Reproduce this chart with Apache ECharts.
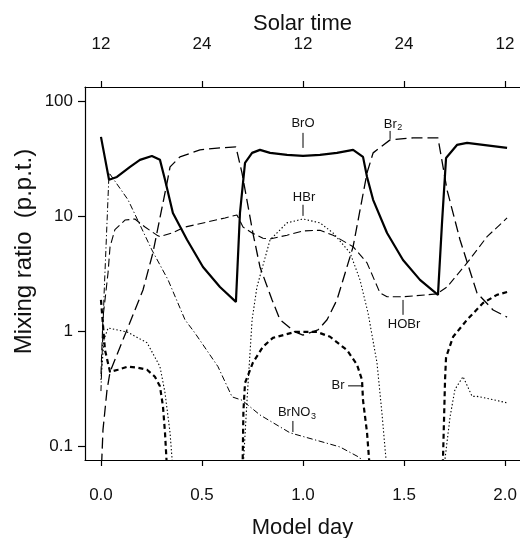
<!DOCTYPE html>
<html><head><meta charset="utf-8">
<script src="https://cdn.jsdelivr.net/npm/echarts@6/dist/echarts.min.js"></script>
<style>html,body{margin:0;padding:0;background:#fff}#c{width:520px;height:538px}</style>
</head><body><div id="c"></div>
<script>
// ---- tick values & labels ----
const xTicks = [0, 0.5, 1, 1.5, 2];
const xTickLabels = ['0.0', '0.5', '1.0', '1.5', '2.0'];
const solarTickLabels = ['12', '24', '12', '24', '12'];
const yTicks = [0.1, 1, 10, 100];
const yTickLabels = ['0.1', '1', '10', '100'];

// ---- series values: [model day, mixing ratio (p.p.t.)] ----
const BrO = [[0,48.6],[0.04,20.6],[0.079,21.8],[0.144,26.7],[0.193,30.7],[0.252,33.2],[0.292,30.7],[0.317,20.6],[0.356,10.6],[0.426,6.2],[0.505,3.6],[0.589,2.41],[0.668,1.79],[0.688,10.6],[0.713,28.9],[0.748,35.3],[0.787,37.5],[0.837,35.3],[0.921,33.9],[1.0,33.2],[1.084,33.9],[1.168,35.3],[1.248,37.5],[1.297,32.6],[1.317,21.8],[1.347,13.8],[1.416,7.1],[1.495,4.14],[1.579,2.78],[1.668,2.06],[1.688,8.7],[1.708,31.9],[1.762,41.4],[1.812,43.1],[2.01,39.0]];
const Br2 = [[0,0.05],[0.01,0.138],[0.03,0.307],[0.045,0.44],[0.208,2.27],[0.257,4.77],[0.327,19.4],[0.342,26.7],[0.391,32.6],[0.49,37.5],[0.589,39.0],[0.668,39.8],[0.698,23.7],[0.752,7.1],[0.787,3.6],[0.847,1.86],[0.886,1.25],[0.96,0.98],[1.0,0.92],[1.074,1.02],[1.119,1.25],[1.168,1.86],[1.248,5.4],[1.317,23.7],[1.347,35.3],[1.431,45.8],[1.545,47.7],[1.668,47.7],[1.713,16.8],[1.777,6.2],[1.861,2.14],[1.941,1.52],[2.01,1.32]];
const HOBr = [[0,0.42],[0.01,1.32],[0.02,1.86],[0.035,3.2],[0.045,5.4],[0.069,7.6],[0.119,9.2],[0.168,9.4],[0.218,8.0],[0.277,6.8],[0.292,6.6],[0.351,7.1],[0.416,8.0],[0.614,9.6],[0.673,10.2],[0.703,8.0],[0.748,7.1],[0.802,6.4],[0.837,6.3],[0.921,6.8],[1.0,7.4],[1.084,7.5],[1.149,6.8],[1.248,5.4],[1.317,3.9],[1.381,2.14],[1.416,1.98],[1.495,1.98],[1.663,2.1],[1.713,2.41],[1.812,3.9],[1.911,6.6],[2.01,9.6]];
const HBr = [[0,0.375],[0.015,0.84],[0.035,1.06],[0.129,0.98],[0.228,0.79],[0.292,0.49],[0.317,0.29],[0.342,0.13],[0.36,0.05],[0.70,0.05],[0.723,0.25],[0.748,1.25],[0.772,2.41],[0.837,6.2],[0.921,8.7],[1.0,9.4],[1.084,8.7],[1.149,7.1],[1.233,4.77],[1.282,2.78],[1.322,1.43],[1.366,0.53],[1.391,0.19],[1.42,0.05],[1.69,0.05],[1.728,0.18],[1.752,0.31],[1.792,0.40],[1.837,0.27],[1.861,0.27],[1.926,0.256],[2.01,0.237]];
const Br = [[0,1.86],[0.02,0.68],[0.045,0.44],[0.084,0.46],[0.134,0.49],[0.178,0.48],[0.228,0.46],[0.267,0.40],[0.292,0.33],[0.307,0.22],[0.317,0.13],[0.33,0.05],[0.70,0.05],[0.705,0.2],[0.713,0.353],[0.752,0.53],[0.802,0.73],[0.851,0.87],[0.96,0.98],[1.069,0.98],[1.134,0.89],[1.218,0.68],[1.267,0.51],[1.292,0.375],[1.297,0.25],[1.317,0.13],[1.335,0.05],[1.69,0.05],[1.698,0.17],[1.703,0.375],[1.708,0.59],[1.743,0.89],[1.812,1.25],[1.891,1.75],[1.96,2.06],[2.01,2.18]];
const BrNO3 = [[0,0.3],[0.015,2.0],[0.04,23.7],[0.134,13.8],[0.252,5.06],[0.332,2.78],[0.416,1.25],[0.465,0.96],[0.579,0.49],[0.649,0.267],[0.698,0.25],[0.703,0.25],[0.787,0.186],[0.936,0.13],[1.099,0.108],[1.183,0.098],[1.282,0.079],[1.33,0.05]];

// ---- species labels: text anchor and pointer in data coords ----
const speciesLabels = [
  {main:'BrO', sub:'', at:[1.0, 64], ptr:[[1.0,52.7],[1.0,39.0]]},
  {main:'Br', sub:'2', at:[1.446, 63], ptr:[[1.431,54.8],[1.431,46.7]]},
  {main:'HBr', sub:'', at:[1.005, 14.6], ptr:[[1.0,12.5],[1.0,10.0]]},
  {main:'HOBr', sub:'', at:[1.5, 1.15], ptr:[[1.495,1.86],[1.495,1.38]]},
  {main:'Br', sub:'', at:[1.173, 0.333], ptr:[[1.223,0.333],[1.292,0.333]]},
  {main:'BrNO', sub:'3', at:[0.97, 0.194], ptr:[[0.95,0.165],[0.95,0.132]]}
];

const FONT = "'Liberation Sans', Arial, Helvetica, sans-serif";
const chart = echarts.init(document.getElementById('c'), null, {renderer:'canvas'});
const findIdx = (arr, v) => arr.findIndex(t => Math.abs(t - v) < 1e-9);
const axisLine = {show:true, onZero:false, lineStyle:{color:'#000', width:1.2}};

const option = {
  animation:false,
  backgroundColor:'#fff',
  grid:{left:85, top:87, right:0, bottom:78, containLabel:false, outerBoundsMode:'none'},
  xAxis:[{
    type:'value', position:'bottom', min:-0.079, max:2.074,
    axisLine, splitLine:{show:false},
    axisTick:{show:true, customValues:xTicks, length:6, lineStyle:{color:'#000', width:1.2}},
    axisLabel:{customValues:xTicks, formatter:v => xTickLabels[findIdx(xTicks, v)], fontSize:17, color:'#111', fontFamily:FONT, margin:27},
    name:'Model day', nameLocation:'middle', nameGap:57, nameMoveOverlap:false,
    nameTextStyle:{fontSize:22, color:'#111', fontFamily:FONT}
  },{
    type:'value', position:'top', min:-0.079, max:2.074,
    axisLine, splitLine:{show:false},
    axisTick:{show:true, customValues:xTicks, length:6, lineStyle:{color:'#000', width:1.2}},
    axisLabel:{customValues:xTicks, formatter:v => solarTickLabels[findIdx(xTicks, v)], fontSize:17, color:'#111', fontFamily:FONT, margin:34},
    name:'Solar time', nameLocation:'middle', nameGap:52, nameMoveOverlap:false,
    nameTextStyle:{fontSize:22, color:'#111', fontFamily:FONT}
  }],
  yAxis:[{
    type:'log', logBase:10, min:0.0755, max:132, position:'left',
    axisLine, splitLine:{show:false}, minorTick:{show:false},
    axisTick:{show:true, customValues:yTicks, length:7, lineStyle:{color:'#000', width:1.2}},
    axisLabel:{customValues:yTicks, formatter:v => yTickLabels[findIdx(yTicks, v)], fontSize:17, color:'#111', fontFamily:FONT, margin:12}
  }],
  series:[
    {name:'BrO', type:'line', data:BrO, showSymbol:false, clip:true, lineStyle:{color:'#000', width:2.2, type:'solid'}},
    {name:'Br2', type:'line', data:Br2, showSymbol:false, clip:true, lineStyle:{color:'#000', width:1.3, type:[11,5]}},
    {name:'HOBr', type:'line', data:HOBr, showSymbol:false, clip:true, lineStyle:{color:'#000', width:1.1, type:[8,4]}},
    {name:'HBr', type:'line', data:HBr, showSymbol:false, clip:true, lineStyle:{color:'#000', width:1.1, type:[1.4,2.2]}},
    {name:'Br', type:'line', data:Br, showSymbol:false, clip:true, lineStyle:{color:'#000', width:2.2, type:[5,3.5]}},
    {name:'BrNO3', type:'line', data:BrNO3, showSymbol:false, clip:true, lineStyle:{color:'#000', width:1.0, type:[6,2.5,1.2,2.5]}}
  ]
};
chart.setOption(option);

// ---- species labels and y axis title (positions from axes) ----
const ctx = document.createElement('canvas').getContext('2d');
const px = p => chart.convertToPixel({xAxisIndex:0, yAxisIndex:0}, p);
const gfx = [];
speciesLabels.forEach(l => {
  const c = px(l.at);
  ctx.font = '13px ' + FONT;
  const wMain = ctx.measureText(l.main).width;
  ctx.font = '9px ' + FONT;
  const wSub = l.sub ? ctx.measureText(l.sub).width + 0.5 : 0;
  const left = c[0] - (wMain + wSub) / 2;
  gfx.push({type:'text', x:left, y:c[1], silent:true,
    style:{text:l.main, fontSize:13, fontFamily:FONT, fill:'#111', align:'left', textAlign:'left', verticalAlign:'middle', textVerticalAlign:'middle'}});
  if (l.sub) gfx.push({type:'text', x:left + wMain + 0.5, y:c[1] + 4, silent:true,
    style:{text:l.sub, fontSize:9, fontFamily:FONT, fill:'#111', align:'left', textAlign:'left', verticalAlign:'middle', textVerticalAlign:'middle'}});
  const a = px(l.ptr[0]), b = px(l.ptr[1]);
  gfx.push({type:'line', silent:true, shape:{x1:a[0], y1:a[1], x2:b[0], y2:b[1]}, style:{stroke:'#000', lineWidth:1}});
});
const gTop = chart.getModel().getComponent('grid').coordinateSystem.getRect();
gfx.push({type:'text', x:24, y:gTop.y + gTop.height/2 - 22, rotation:Math.PI/2, silent:true,
  style:{text:'Mixing ratio  (p.p.t.)', fontSize:24, fontFamily:FONT, fill:'#111', align:'center', textAlign:'center', verticalAlign:'middle', textVerticalAlign:'middle'}});
chart.setOption({graphic:gfx});
</script>
</body></html>
